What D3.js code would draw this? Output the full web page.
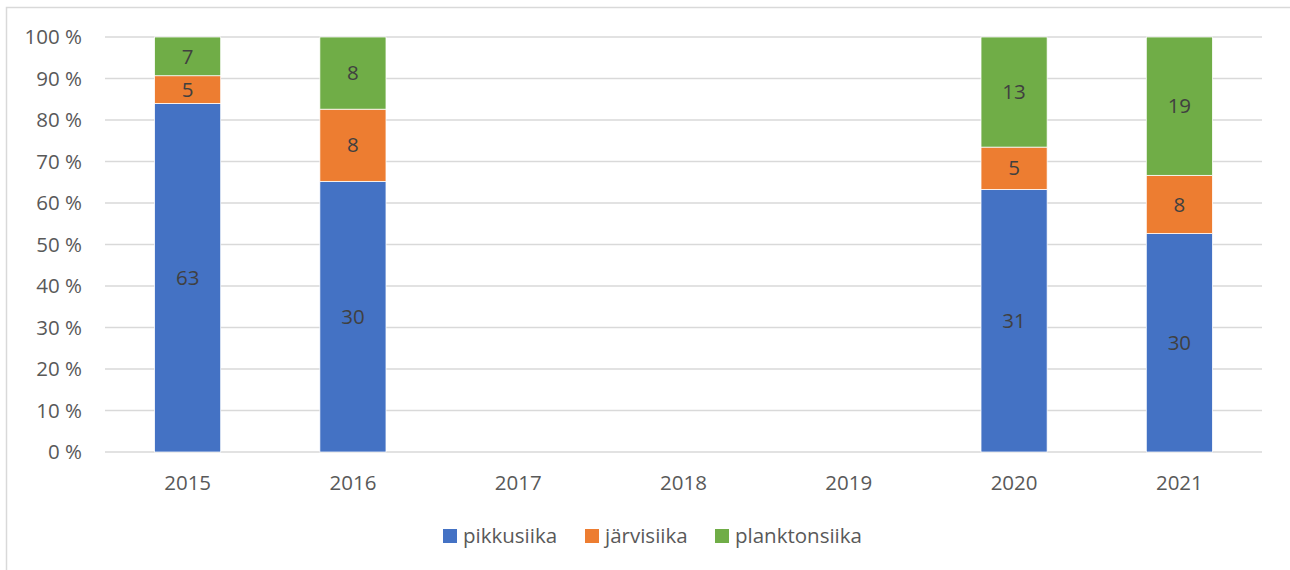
<!DOCTYPE html>
<html>
<head>
<meta charset="utf-8">
<script src="https://cdn.jsdelivr.net/npm/d3@7"></script>
<style>
  body { margin: 0; background: #fff; }
  text { font-family: "Open Sans", "Noto Sans", sans-serif; }
</style>
</head>
<body>
<div id="chart"></div>
<script>
// data
const years = ["2015", "2016", "2017", "2018", "2019", "2020", "2021"];
const pikkusiika = [63, 30, 0, 0, 0, 31, 30];
const jarvisiika = [5, 8, 0, 0, 0, 5, 8];
const planktonsiika = [7, 8, 0, 0, 0, 13, 19];
const yTicks = [0, 10, 20, 30, 40, 50, 60, 70, 80, 90, 100];
const legendNames = ["pikkusiika", "järvisiika", "planktonsiika"];
const colors = ["#4472C4", "#ED7D31", "#70AD47"];

const W = 1290, H = 570;
const margin = { top: 37, right: 28, bottom: 118, left: 105 },
  width = W - margin.left - margin.right,
  height = H - margin.top - margin.bottom;

const root = d3.select("#chart").append("svg")
  .attr("width", W)
  .attr("height", H);

// outer chart border (runs off right/bottom edge)
root.append("rect")
  .attr("x", 6.5).attr("y", 7.5)
  .attr("width", W + 10).attr("height", H + 10)
  .attr("fill", "#fff")
  .attr("stroke", "#d9d9d9")
  .attr("stroke-width", 1.5);

const svg = root.append("g")
  .attr("transform", `translate(${margin.left},${margin.top})`);

const rows = years.map((y, i) => ({
  year: y,
  vals: [pikkusiika[i], jarvisiika[i], planktonsiika[i]]
}));

const x = d3.scaleBand()
  .domain(years)
  .range([0, width])
  .paddingInner(0.6)
  .paddingOuter(0.3);

const y = d3.scaleLinear()
  .domain([0, 100])
  .range([height, 0]);

// gridlines
svg.append("g")
  .selectAll("line")
  .data(yTicks)
  .join("line")
  .attr("x1", 0).attr("x2", width)
  .attr("y1", d => y(d)).attr("y2", d => y(d))
  .attr("stroke", "#d9d9d9")
  .attr("stroke-width", 1.5);

// y labels
svg.append("g")
  .selectAll("text")
  .data(yTicks)
  .join("text")
  .attr("x", -23)
  .attr("y", d => y(d))
  .attr("dy", "0.35em")
  .attr("text-anchor", "end")
  .attr("fill", "#595959")
  .attr("font-size", 20.5)
  .text(d => d + " %");

// x labels
svg.append("g")
  .selectAll("text")
  .data(years)
  .join("text")
  .attr("x", d => x(d) + x.bandwidth() / 2)
  .attr("y", height + 38)
  .attr("text-anchor", "middle")
  .attr("fill", "#595959")
  .attr("font-size", 20.5)
  .text(d => d);

// stacked segments (shares of the year's total)
const segs = [];
rows.forEach(r => {
  const total = d3.sum(r.vals);
  if (total === 0) return;
  let acc = 0;
  r.vals.forEach((v, k) => {
    const y0 = acc / total * 100;
    acc += v;
    const y1 = acc / total * 100;
    segs.push({ year: r.year, k, v, y0, y1 });
  });
});

svg.append("g")
  .selectAll("rect")
  .data(segs)
  .join("rect")
  .attr("x", d => x(d.year))
  .attr("width", x.bandwidth())
  .attr("y", d => y(d.y1))
  .attr("height", d => y(d.y0) - y(d.y1))
  .attr("fill", d => colors[d.k])
  .attr("stroke", "#fff")
  .attr("stroke-width", 0.75);

svg.append("g")
  .selectAll("text")
  .data(segs)
  .join("text")
  .attr("x", d => x(d.year) + x.bandwidth() / 2)
  .attr("y", d => y((d.y0 + d.y1) / 2))
  .attr("dy", "0.35em")
  .attr("text-anchor", "middle")
  .attr("fill", "#404040")
  .attr("font-size", 20.5)
  .text(d => d.v);

// legend
const legendX = [443, 585, 715];
const legend = root.append("g");
legendNames.forEach((name, k) => {
  legend.append("rect")
    .attr("x", legendX[k]).attr("y", 529)
    .attr("width", 14).attr("height", 14)
    .attr("fill", colors[k]);
  legend.append("text")
    .attr("x", legendX[k] + 20)
    .attr("y", 536)
    .attr("dy", "0.35em")
    .attr("fill", "#595959")
    .attr("font-size", 20.5)
    .text(name);
});
</script>
</body>
</html>
